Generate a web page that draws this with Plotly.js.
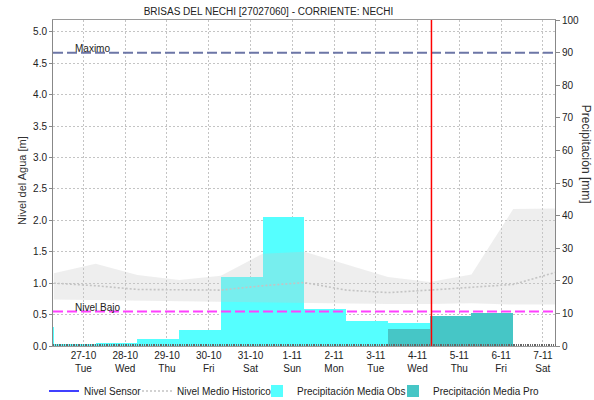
<!DOCTYPE html>
<html>
<head>
<meta charset="utf-8">
<script src="https://cdn.plot.ly/plotly-3.0.1.min.js"></script>
<style>html,body{margin:0;padding:0;background:#fff;}#chart{width:594px;height:400px;}</style>
</head>
<body>
<div id="chart"></div>
<script>
// ---- data ----
const tickDays = ['2020-10-27','2020-10-28','2020-10-29','2020-10-30','2020-10-31','2020-11-01','2020-11-02','2020-11-03','2020-11-04','2020-11-05','2020-11-06','2020-11-07'];
const tickDayLabels = ['27-10','28-10','29-10','30-10','31-10','1-11','2-11','3-11','4-11','5-11','6-11','7-11'];
const tickWeekdays = ['Tue','Wed','Thu','Fri','Sat','Sun','Mon','Tue','Wed','Thu','Fri','Sat'];

// daily precipitation periods start at 07:00 of these dates
const obsDates = ['2020-10-25','2020-10-26','2020-10-27','2020-10-28','2020-10-29','2020-10-30','2020-10-31','2020-11-01','2020-11-02','2020-11-03'];
const obsPrecip = [5.8, 0.5, 0.8, 2.2, 5.0, 21.3, 39.6, 11.3, 7.7, 7.0];
const proDates = ['2020-11-03','2020-11-04','2020-11-05'];
const proPrecip = [5.2, 9.3, 10.2];

// historic level statistics (daily at 07:00)
const histDates = ['2020-10-26','2020-10-27','2020-10-28','2020-10-29','2020-10-30','2020-10-31','2020-11-01','2020-11-02','2020-11-03','2020-11-04','2020-11-05','2020-11-06','2020-11-07'];
const histUpper = [1.16, 1.31, 1.13, 1.05, 1.12, 1.47, 1.50, 1.30, 1.10, 1.02, 1.14, 2.18, 2.19];
const histLower = [0.74, 0.73, 0.72, 0.71, 0.70, 0.70, 0.69, 0.68, 0.67, 0.67, 0.68, 0.66, 0.66];
const histMean  = [1.00, 0.96, 0.90, 0.89, 0.89, 0.96, 1.01, 0.89, 0.85, 0.89, 0.93, 0.98, 1.17];

const thresholdNames = ['Maximo', 'Nivel Bajo'];
const thresholdValues = [4.67, 0.55];
const nowTime = '2020-11-04 08:00';

const sensorDates = ['2020-10-26 07:00'];
const sensorLevel = [null];

// ---- build ----
const at7 = d => d + ' 07:00';
const DAY = 86400000;
const FONT = 'Liberation Sans, Arial, sans-serif';
const W = 594;

const traces = [
  {type:'bar', name:'Precipitación Media Obs', x: obsDates.map(at7), y: obsPrecip,
   width: DAY, offset: 0, marker:{color:'#55ffff', line:{width:0}}, yaxis:'y', legend:'legend3'},
  {type:'bar', name:'Precipitación Media Pro', x: proDates.map(at7), y: proPrecip,
   width: DAY, offset: 0, marker:{color:'#46c6c6', line:{width:0}}, yaxis:'y', legend:'legend4'},
  {type:'scatter', mode:'lines', x: histDates.map(at7), y: histLower, yaxis:'y2',
   line:{width:0, color:'rgba(0,0,0,0)'}, showlegend:false, hoverinfo:'skip'},
  {type:'scatter', mode:'lines', x: histDates.map(at7), y: histUpper, yaxis:'y2', fill:'tonexty',
   fillcolor:'rgba(200,200,200,0.3)', line:{width:0, color:'rgba(0,0,0,0)'}, showlegend:false, hoverinfo:'skip'},
  {type:'scatter', mode:'lines', name:'Nivel Medio Historico', x: histDates.map(at7), y: histMean, yaxis:'y2',
   line:{color:'#c4c4c4', width:1.6, dash:'2px,2px'}, legend:'legend2'},
  {type:'scatter', mode:'lines', name:'Nivel Sensor', x: sensorDates, y: sensorLevel, yaxis:'y2',
   line:{color:'#0000ff', width:1.5}, legend:'legend'}
];

const shapes = [
  {type:'line', xref:'paper', x0:0, x1:1, yref:'y2', y0:thresholdValues[0], y1:thresholdValues[0],
   line:{color:'#6c76a6', width:2, dash:'10px,4px'}},
  {type:'line', xref:'paper', x0:0, x1:1, yref:'y2', y0:thresholdValues[1], y1:thresholdValues[1],
   line:{color:'#ff40ff', width:2, dash:'10px,4px'}},
  {type:'line', xref:'x', x0:nowTime, x1:nowTime, yref:'paper', y0:0, y1:1,
   line:{color:'#ff0000', width:1.5}}
];

const annotations = thresholdNames.map((n,i)=>({
  text:n, xref:'paper', x:0.04, xanchor:'left', yref:'y2', y:thresholdValues[i], yanchor:'middle', yshift:4,
  showarrow:false, font:{family:FONT, size:10, color:'#222'}
}));
annotations.push({text:'Nivel del Agua [m]', textangle:-90, xref:'paper', x:-0.062, xanchor:'center',
  yref:'paper', y:0.509, yanchor:'middle', showarrow:false, font:{family:FONT, size:11, color:'#333'}});
annotations.push({text:'Precipitación [mm]', textangle:90, xref:'paper', x:1.062, xanchor:'center',
  yref:'paper', y:0.589, yanchor:'middle', showarrow:false, font:{family:FONT, size:12, color:'#333'}});

const legendBase = {orientation:'h', xref:'container', xanchor:'left', yref:'container', y:0.0225, yanchor:'middle',
  font:{family:FONT, size:10, color:'#222'}, itemwidth:30, bgcolor:'rgba(0,0,0,0)', borderwidth:0};

const layout = {
  width:594, height:400,
  margin:{l:53, r:39, t:20, b:54},
  paper_bgcolor:'#fff', plot_bgcolor:'#fff',
  font:{family:FONT, size:10, color:'#333'},
  title:{text:'BRISAS DEL NECHI [27027060] - CORRIENTE: NECHI', xref:'container', x:0.452, xanchor:'center',
         yref:'container', y:0.9725, yanchor:'middle',
         font:{family:FONT, size:10, color:'#222'}},
  barmode:'overlay', bargap:0,
  showlegend:true,
  legend: Object.assign({}, legendBase, {x:44/W}),
  legend2: Object.assign({}, legendBase, {x:137/W}),
  legend3: Object.assign({}, legendBase, {x:257/W}),
  legend4: Object.assign({}, legendBase, {x:393/W}),
  xaxis:{type:'date', range:['2020-10-26 06:30','2020-11-07 07:00'],
         tickmode:'array', tickvals:tickDays, ticktext:tickDayLabels.map((d,i)=>d+'<br>'+tickWeekdays[i]),
         ticks:'', showgrid:true, gridcolor:'#c4c4c4', griddash:'2px,2px', gridwidth:1,
         showline:true, mirror:true, linecolor:'#9a9a9a', linewidth:1, zeroline:false,
         tickfont:{family:FONT, size:10, color:'#222'},
         minor:{tickmode:'linear', tick0:'2020-10-26', dtick:3600000, ticks:'inside', ticklen:2, tickcolor:'#666', tickwidth:1, showgrid:false}},
  yaxis:{side:'right', range:[0,100], tickmode:'linear', tick0:0, dtick:10, ticks:'outside', ticklen:4, tickcolor:'#888',
         showline:true, linecolor:'#888', linewidth:1, showgrid:false, zeroline:false,
         tickfont:{family:FONT, size:10, color:'#222'}},
  yaxis2:{side:'left', overlaying:'y', range:[0,5.19], tickmode:'linear', tick0:0, dtick:0.5, tickformat:'.1f',
          ticks:'outside', ticklen:3, tickcolor:'#888', showline:true, linecolor:'#888', linewidth:1,
          showgrid:true, gridcolor:'#c4c4c4', griddash:'2px,2px', gridwidth:1, zeroline:false,
          tickfont:{family:FONT, size:10, color:'#222'}},
  shapes:shapes, annotations:annotations
};

Plotly.newPlot('chart', traces, layout, {displayModeBar:false, staticPlot:true});
</script>
</body>
</html>
